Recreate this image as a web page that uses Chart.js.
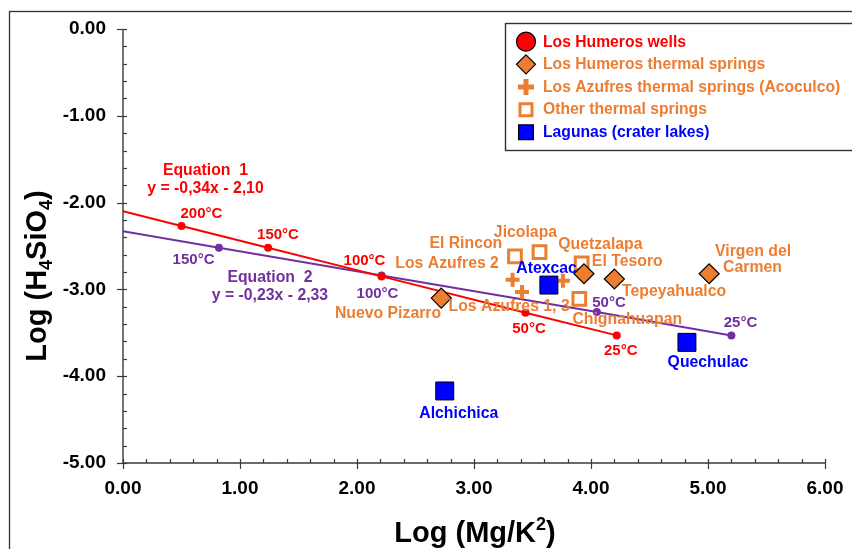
<!DOCTYPE html>
<html>
<head>
<meta charset="utf-8">
<script src="https://cdn.jsdelivr.net/npm/chart.js@4/dist/chart.umd.min.js"></script>
<style>
  html, body { margin: 0; padding: 0; background: #fff; }
  #wrap { width: 852px; height: 549px; position: relative; }
</style>
</head>
<body>
<div id="wrap"><canvas id="chart" width="852" height="549"></canvas></div>
<script>
// ---- Geothermometer lines (temperature points along each equation) ----
const eq1X = [0.00, 0.50, 1.24, 2.21, 3.44, 4.22];
const eq1Y = [-2.10, -2.27, -2.52, -2.85, -3.27, -3.53];
const eq1Temps = ['', '200°C', '150°C', '100°C', '50°C', '25°C'];
const eq2X = [0.00, 0.82, 2.21, 4.05, 5.20];
const eq2Y = [-2.33, -2.52, -2.84, -3.26, -3.53];
const eq2Temps = ['', '150°C', '100°C', '50°C', '25°C'];

// ---- Sample groups ----
const seriesNames = [
  'Los Humeros wells',
  'Los Humeros thermal springs',
  'Los Azufres thermal springs (Acoculco)',
  'Other thermal springs',
  'Lagunas (crater lakes)'
];
const wellsX = [];
const wellsY = [];
const humerosSpringsX = [2.72, 3.94, 4.20, 5.01];
const humerosSpringsY = [-3.10, -2.82, -2.88, -2.82];
const azufresSpringsX = [3.33, 3.41, 3.76];
const azufresSpringsY = [-2.89, -3.03, -2.90];
const otherSpringsX = [3.35, 3.56, 3.92, 3.90];
const otherSpringsY = [-2.62, -2.57, -2.70, -3.11];
const lagunasX = [3.64, 2.75, 4.82];
const lagunasY = [-2.95, -4.17, -3.61];

// ---- Axis ticks ----
const xTicks = [0, 1, 2, 3, 4, 5, 6];
const yTicks = [0, -1, -2, -3, -4, -5];

// ---- Text annotations (anchored in data units) ----
const springLabels = ['El Rincon', 'Jicolapa', 'Los Azufres 2', 'Quetzalapa', 'El Tesoro',
  'Tepeyahualco', 'Virgen del', 'Carmen', 'Nuevo Pizarro', 'Los Azufres 1, 3', 'Chignahuapan'];
const springLabelX = [2.93, 3.44, 2.77, 4.08, 4.31, 4.71, 5.385, 5.38, 2.265, 3.30, 4.31];
const springLabelY = [-2.47, -2.35, -2.70, -2.49, -2.68, -3.03, -2.56, -2.75, -3.28, -3.20, -3.345];
const lakeLabels = ['Atexcac', 'Alchichica', 'Quechulac'];
const lakeLabelX = [3.62, 2.87, 5.00];
const lakeLabelY = [-2.76, -4.435, -3.845];
const eq1TempLabelX = [null, 0.67, 1.325, 2.064, 3.47, 4.254];
const eq1TempLabelY = [null, -2.135, -2.373, -2.673, -3.456, -3.706];
const eq2TempLabelX = [null, 0.603, 2.175, 4.154, 5.278];
const eq2TempLabelY = [null, -2.661, -3.056, -3.153, -3.384];
const eq1Text = ['Equation  1', 'y = -0,34x - 2,10'];
const eq1TextX = 0.705;
const eq1TextY = [-1.636, -1.843];
const eq2Text = ['Equation  2', 'y = -0,23x - 2,33'];
const eq2TextX = 1.256;
const eq2TextY = [-2.869, -3.073];

const RED = '#FF0000';
const ORANGE = '#ED7D31';
const BLUE = '#0000FF';
const PURPLE = '#7030A0';
const FONT = '"Liberation Sans", Arial, Helvetica, sans-serif';

const pts = (xs, ys) => xs.map((x, i) => ({ x: x, y: ys[i] }));

// Marker drawing shared by the legend
function drawMarker(ctx, style, x, y, r, fill, stroke, lw) {
  ctx.save();
  ctx.fillStyle = fill;
  ctx.strokeStyle = stroke;
  ctx.lineWidth = lw;
  ctx.beginPath();
  if (style === 'circle') {
    ctx.arc(x, y, r, 0, Math.PI * 2);
    ctx.fill(); ctx.stroke();
  } else if (style === 'rectRot') {
    ctx.moveTo(x, y - r); ctx.lineTo(x + r, y); ctx.lineTo(x, y + r); ctx.lineTo(x - r, y); ctx.closePath();
    ctx.fill(); ctx.stroke();
  } else if (style === 'cross') {
    ctx.moveTo(x - r, y); ctx.lineTo(x + r, y);
    ctx.moveTo(x, y - r); ctx.lineTo(x, y + r);
    ctx.stroke();
  } else if (style === 'rect') {
    const s = r * Math.SQRT1_2;
    ctx.rect(x - s, y - s, 2 * s, 2 * s);
    if (fill !== 'transparent') ctx.fill();
    ctx.stroke();
  }
  ctx.restore();
}

const decorPlugin = {
  id: 'decor',
  beforeDraw(chart) {
    const ctx = chart.ctx;
    ctx.save();
    ctx.fillStyle = '#fff';
    ctx.fillRect(0, 0, chart.width, chart.height);
    // outer frame
    ctx.strokeStyle = '#333';
    ctx.lineWidth = 1.3;
    ctx.strokeRect(9.5, 11.5, 900, 600);
    ctx.restore();
  },
  afterDatasetsDraw(chart) {
    const ctx = chart.ctx;
    const xs = chart.scales.x, ys = chart.scales.y;
    const a = chart.chartArea;
    const X = v => xs.getPixelForValue(v);
    const Y = v => ys.getPixelForValue(v);

    ctx.save();
    // axis lines and ticks
    ctx.strokeStyle = '#3a3a3a';
    ctx.lineWidth = 1.4;
    ctx.beginPath();
    ctx.moveTo(a.left, a.top); ctx.lineTo(a.left, a.bottom); ctx.lineTo(a.right, a.bottom);
    ctx.stroke();
    ctx.lineWidth = 1.2;
    for (let i = 0; i <= 30; i++) {
      const px = Math.round(X(i * 0.2)) + 0.5;
      const major = i % 5 === 0;
      ctx.beginPath();
      ctx.moveTo(px, a.bottom - 4);
      ctx.lineTo(px, major ? a.bottom + 6 : a.bottom);
      ctx.stroke();
    }
    for (let i = 0; i <= 25; i++) {
      const py = Math.round(Y(-i * 0.2)) + 0.5;
      const major = i % 5 === 0;
      ctx.beginPath();
      ctx.moveTo(major ? a.left - 6 : a.left, py);
      ctx.lineTo(a.left + 4, py);
      ctx.stroke();
    }

    // text annotations
    ctx.textAlign = 'center';
    ctx.textBaseline = 'middle';
    ctx.font = 'bold 15.8px ' + FONT;
    ctx.fillStyle = ORANGE;
    springLabels.forEach((t, i) => ctx.fillText(t, X(springLabelX[i]), Y(springLabelY[i])));
    ctx.fillStyle = BLUE;
    lakeLabels.forEach((t, i) => ctx.fillText(t, X(lakeLabelX[i]), Y(lakeLabelY[i])));
    ctx.fillStyle = RED;
    eq1Text.forEach((t, i) => ctx.fillText(t, X(eq1TextX), Y(eq1TextY[i])));
    ctx.fillStyle = PURPLE;
    eq2Text.forEach((t, i) => ctx.fillText(t, X(eq2TextX), Y(eq2TextY[i])));
    ctx.font = 'bold 15px ' + FONT;
    ctx.fillStyle = RED;
    eq1Temps.forEach((t, i) => { if (t) ctx.fillText(t, X(eq1TempLabelX[i]), Y(eq1TempLabelY[i])); });
    ctx.fillStyle = PURPLE;
    eq2Temps.forEach((t, i) => { if (t) ctx.fillText(t, X(eq2TempLabelX[i]), Y(eq2TempLabelY[i])); });

    // legend box
    const lx = 505.5, ly = 23.5;
    ctx.fillStyle = '#fff';
    ctx.fillRect(lx, ly, 400, 127);
    ctx.strokeStyle = '#333';
    ctx.lineWidth = 1.4;
    ctx.strokeRect(lx, ly, 400, 127);
    const legendColors = [RED, ORANGE, ORANGE, ORANGE, BLUE];
    chart.data.datasets.filter(d => d.legendIndex !== undefined)
      .sort((p, q) => p.legendIndex - q.legendIndex)
      .forEach(d => {
        const k = d.legendIndex;
        const cy = 41.7 + k * 22.65;
        const cx = 526;
        const lm = d.legendMarker;
        drawMarker(ctx, d.pointStyle, cx, cy, lm.r, d.backgroundColor, d.borderColor, lm.lw);
        ctx.textAlign = 'left';
        ctx.fillStyle = legendColors[k];
        ctx.font = 'bold 15.7px ' + FONT;
        ctx.fillText(d.label, 543, cy + 0.5);
      });

    // axis titles
    ctx.fillStyle = '#000';
    ctx.textBaseline = 'alphabetic';
    const big = 'bold 29px ' + FONT;
    const small = 'bold 18px ' + FONT;
    // x title with superscript
    const xParts = [['Log (Mg/K', big, 0], ['2', small, -12], [')', big, 0]];
    drawRich(ctx, xParts, (a.left + a.right) / 2 + 1, 542, 0);
    // y title with subscripts, rotated
    const yParts = [['Log (H', big, 0], ['4', small, 6], ['SiO', big, 0], ['4', small, 6], [')', big, 0]];
    drawRich(ctx, yParts, 46, 276, -Math.PI / 2);
    ctx.restore();
  }
};

function drawRich(ctx, parts, cx, cy, rot) {
  let total = 0;
  parts.forEach(p => { ctx.font = p[1]; total += ctx.measureText(p[0]).width; });
  ctx.save();
  ctx.translate(cx, cy);
  ctx.rotate(rot);
  ctx.textAlign = 'left';
  let x = -total / 2;
  parts.forEach(p => {
    ctx.font = p[1];
    ctx.fillText(p[0], x, p[2]);
    x += ctx.measureText(p[0]).width;
  });
  ctx.restore();
}

new Chart(document.getElementById('chart'), {
  type: 'scatter',
  data: {
    datasets: [
      {
        label: 'Equation 1', data: pts(eq1X, eq1Y), showLine: true,
        borderColor: RED, backgroundColor: RED, borderWidth: 2,
        pointRadius: eq1X.map((_, i) => (i === 0 ? 0 : 4)), pointBorderWidth: 0,
        order: 6
      },
      {
        label: 'Equation 2', data: pts(eq2X, eq2Y), showLine: true,
        borderColor: PURPLE, backgroundColor: PURPLE, borderWidth: 2,
        pointRadius: eq2X.map((_, i) => (i === 0 ? 0 : 4)), pointBorderWidth: 0,
        order: 7
      },
      {
        label: seriesNames[0], legendIndex: 0, legendMarker: { r: 9.5, lw: 1.2 },
        data: pts(wellsX, wellsY), pointStyle: 'circle',
        backgroundColor: RED, borderColor: '#000', pointRadius: 5, borderWidth: 1, order: 5
      },
      {
        label: seriesNames[1], legendIndex: 1, legendMarker: { r: 9.5, lw: 1.2 },
        data: pts(humerosSpringsX, humerosSpringsY), pointStyle: 'rectRot',
        backgroundColor: ORANGE, borderColor: '#000', pointRadius: 10, borderWidth: 1.2, order: 2
      },
      {
        label: seriesNames[2], legendIndex: 2, legendMarker: { r: 8, lw: 5 },
        data: pts(azufresSpringsX, azufresSpringsY), pointStyle: 'cross',
        backgroundColor: ORANGE, borderColor: ORANGE, pointRadius: 7, borderWidth: 4, order: 3
      },
      {
        label: seriesNames[3], legendIndex: 3, legendMarker: { r: 8.5, lw: 3 },
        data: pts(otherSpringsX, otherSpringsY), pointStyle: 'rect',
        backgroundColor: 'transparent', borderColor: ORANGE, pointRadius: 9, borderWidth: 3, order: 4
      },
      {
        label: seriesNames[4], legendIndex: 4, legendMarker: { r: 10.5, lw: 1.2 },
        data: pts(lagunasX, lagunasY), pointStyle: 'rect',
        backgroundColor: BLUE, borderColor: '#000', pointRadius: 12.7, borderWidth: 1, order: 1
      }
    ]
  },
  options: {
    responsive: false,
    animation: false,
    devicePixelRatio: 1,
    layout: { padding: { left: 0, top: 29, right: 27, bottom: 0 } },
    plugins: { legend: { display: false }, tooltip: { enabled: false } },
    scales: {
      x: {
        type: 'linear', min: 0, max: 6,
        afterBuildTicks: s => { s.ticks = xTicks.map(v => ({ value: v })); },
        grid: { display: false, drawTicks: false },
        border: { display: false },
        ticks: {
          padding: 14, color: '#000',
          font: { family: FONT, size: 19, weight: 'bold' },
          callback: v => Number(v).toFixed(2)
        },
        afterFit: s => { s.height = 86; s.paddingRight = 20; }
      },
      y: {
        type: 'linear', min: -5, max: 0,
        afterBuildTicks: s => { s.ticks = yTicks.map(v => ({ value: v })); },
        grid: { display: false, drawTicks: false },
        border: { display: false },
        ticks: {
          padding: 17, color: '#000',
          font: { family: FONT, size: 19, weight: 'bold' },
          callback: v => (Math.abs(v) < 1e-9 ? 0 : Number(v)).toFixed(2)
        },
        afterFit: s => { s.width = 123; }
      }
    }
  },
  plugins: [decorPlugin]
});
</script>
</body>
</html>
